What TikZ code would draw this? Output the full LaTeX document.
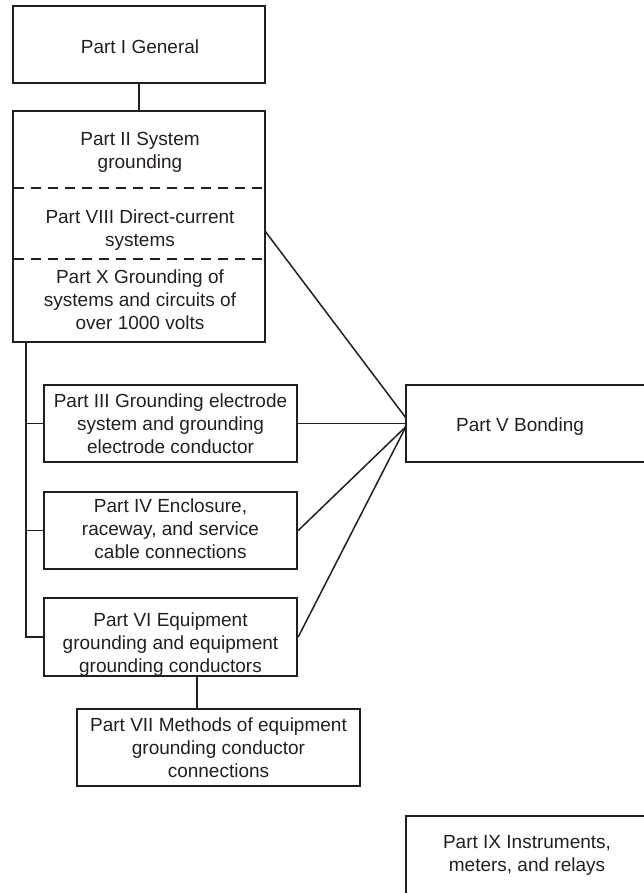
\documentclass[tikz,border=0pt]{standalone}
\usepackage{fontspec}
\setmainfont{Liberation Sans}
\definecolor{ink}{HTML}{231F20}
\begin{document}
\begin{tikzpicture}[x=1pt,y=-1pt,
  box/.style={draw=ink,line width=2.4pt,rectangle,inner sep=0pt},
  txt/.style={text=ink,align=center,inner sep=0pt,font=\fontsize{19}{23}\selectfont},
  conn/.style={draw=ink,line width=1.5pt},
  sep/.style={draw=ink,line width=1.5pt,dash pattern=on 10pt off 7pt}]
\useasboundingbox (0,0) rectangle (643,893);
% boxes
\node[box,minimum width=252pt,minimum height=77pt] (pI) at (139,44.5) {};
\node[txt] (pIt) at (140,47) {Part I General};
\node[box,minimum width=252pt,minimum height=231pt] (big) at (139,226.5) {};
\node[txt] (pII) at (140,152) {Part II System\\grounding};
\node[txt] (pVIII) at (140,230) {Part VIII Direct-current\\systems};
\node[txt] (pX) at (140,300) {Part X Grounding of\\systems and circuits of\\over 1000 volts};
\coordinate (d1a) at (14,188); \coordinate (d1b) at (264,188);
\coordinate (d2a) at (14,259); \coordinate (d2b) at (264,259);
\draw[sep] (d1a) -- (d1b);
\draw[sep] (d2a) -- (d2b);

\node[box,minimum width=253pt,minimum height=77pt] (pIII) at (170.5,423.5) {};
\node[txt] (pIIIt) at (170.5,424) {Part III Grounding electrode\\system and grounding\\electrode conductor};
\node[box,minimum width=253pt,minimum height=77pt] (pIV) at (170.5,530.5) {};
\node[txt] (pIVt) at (170.5,529) {Part IV Enclosure,\\raceway, and service\\cable connections};
\node[box,minimum width=253pt,minimum height=78pt] (pVI) at (170.5,637) {};
\node[txt] (pVIt) at (170.5,645) {Part VI Equipment\\grounding and equipment\\grounding conductors};
\node[box,minimum width=283pt,minimum height=77pt] (pVII) at (218.5,747.5) {};
\node[txt] (pVIIt) at (218.5,748) {Part VII Methods of equipment\\grounding conductor\\connections};
\node[box,minimum width=254pt,minimum height=77pt] (pV) at (533,423.5) {};
\node[txt] (pVt) at (520,427) {Part V Bonding};
\node[box,minimum width=254pt,minimum height=90pt] (pIX) at (533,861) {};
\node[txt] (pIXt) at (527,855) {Part IX Instruments,\\meters, and relays};

% connectors
\draw[conn] (pI.south) -- (big.north);
\coordinate (trunk) at (26,342);
\draw[conn] (trunk) |- (pVI.west);
\draw[conn] (pIII.west -| trunk) -- (pIII.west);
\draw[conn] (pIV.west -| trunk) -- (pIV.west);
\coordinate (c6) at (197,676);
\coordinate (c7) at (197,709);
\draw[conn] (c6) -- (c7);
\coordinate (c2) at (265,231);
\coordinate (v1) at (406,418);
\coordinate (v2) at (406,426.5);
\draw[conn] (c2) -- (v1);
\draw[conn] (pIII.east) -- (pIII.east -| pV.west);
\draw[conn] (pIV.east) -- (v2);
\draw[conn] (pVI.east) -- (v2);
\end{tikzpicture}
\end{document}
